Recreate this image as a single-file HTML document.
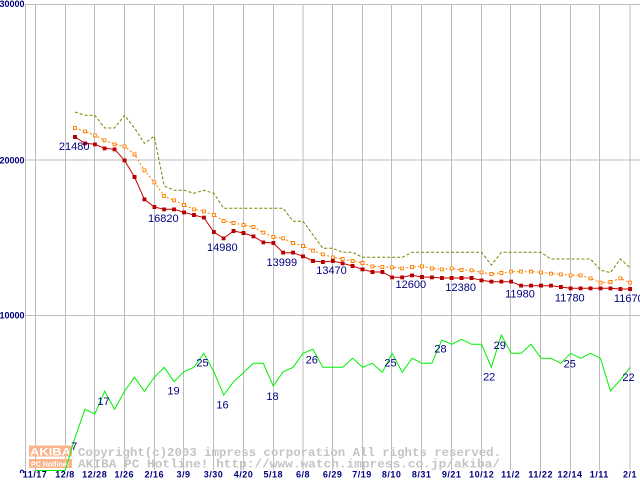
<!DOCTYPE html>
<html><head><meta charset="utf-8"><style>
html,body{margin:0;padding:0;background:#fff;}
svg{display:block;}
.xl{font-family:"Liberation Sans",sans-serif;font-size:9px;font-weight:bold;fill:#000080;letter-spacing:0.5px;text-anchor:middle;}
.yl{font-family:"Liberation Sans",sans-serif;font-size:9px;font-weight:bold;fill:#000080;text-anchor:end;}
.dl{font-family:"Liberation Sans",sans-serif;font-size:11px;fill:#000080;text-anchor:middle;}
.wm{font-family:"Liberation Mono",monospace;font-size:12px;font-weight:bold;fill:#c4c4c4;}
</style></head><body>
<svg width="640" height="480" viewBox="0 0 640 480" xmlns="http://www.w3.org/2000/svg">
<defs>
<marker id="mr" viewBox="0 0 4 4" refX="2" refY="2" markerWidth="4" markerHeight="4" markerUnits="userSpaceOnUse"><rect width="4" height="4" fill="#b80000"/></marker>
<marker id="mo" viewBox="0 0 4 4" refX="2" refY="2" markerWidth="4" markerHeight="4" markerUnits="userSpaceOnUse"><rect x="0.5" y="0.5" width="3" height="3" fill="#fff" stroke="#ff8000" stroke-width="1"/></marker>
<clipPath id="c0"><rect x="0" y="0" width="640" height="473"/></clipPath>
</defs>
<rect width="640" height="480" fill="#fff"/>
<!-- grid -->
<g stroke="#bcbcbc" stroke-width="1" fill="none">
<path d="M25,4.5H640M25,160H640M25,315.5H640"/>
<path d="M25.5,4V470M35.5,4V470M65.5,4V470M94.5,4V470M124.5,4V470M154.5,4V470M183.5,4V470M213.5,4V470M243.5,4V470M273.5,4V470M303,4V470M332.5,4V470M362.5,4V470M391.5,4V470M421.5,4V470M451.5,4V470M481.5,4V470M510.5,4V470M540.5,4V470M570.5,4V470M599.5,4V470M630,4V470"/>
</g>
<!-- y labels -->
<text class="yl" x="24.5" y="7">30000</text>
<text class="yl" x="24.5" y="163.3">20000</text>
<text class="yl" x="24.5" y="318.7">10000</text>
<text class="yl" x="24.5" y="476" clip-path="url(#c0)">0</text>
<!-- x labels -->
<g class="xl">
<text x="35" y="477.5">11/17</text>
<text x="65" y="477.5">12/8</text>
<text x="94.7" y="477.5">12/28</text>
<text x="124.3" y="477.5">1/26</text>
<text x="154.3" y="477.5">2/16</text>
<text x="183.5" y="477.5">3/9</text>
<text x="213.5" y="477.5">3/30</text>
<text x="243.5" y="477.5">4/20</text>
<text x="273.3" y="477.5">5/18</text>
<text x="303" y="477.5">6/8</text>
<text x="332.7" y="477.5">6/29</text>
<text x="362" y="477.5">7/19</text>
<text x="391.7" y="477.5">8/10</text>
<text x="421.7" y="477.5">8/31</text>
<text x="451.7" y="477.5">9/21</text>
<text x="481.7" y="477.5">10/12</text>
<text x="510.7" y="477.5">11/2</text>
<text x="540.7" y="477.5">11/22</text>
<text x="570" y="477.5">12/14</text>
<text x="599.3" y="477.5">1/11</text>
<text x="630" y="477.5">2/1</text>
</g>
<!-- watermark -->
<rect x="29" y="445.5" width="43" height="11" fill="#f9b48c"/>
<rect x="29" y="459" width="43" height="9" fill="#f9b48c"/>
<text x="30" y="455.5" font-family="Liberation Sans,sans-serif" font-size="11" font-weight="bold" fill="#ffffff" textLength="41" lengthAdjust="spacingAndGlyphs">AKIBA</text>
<text x="31" y="466.5" font-family="Liberation Sans,sans-serif" font-size="7.5" font-weight="bold" fill="#ffffff" textLength="38" lengthAdjust="spacingAndGlyphs">PC Hotline!</text>
<text class="wm" x="78" y="456" textLength="423" lengthAdjust="spacingAndGlyphs">Copyright(c)2003 impress corporation All rights reserved.</text>
<text class="wm" x="78" y="467.3" textLength="422" lengthAdjust="spacingAndGlyphs">AKIBA PC Hotline!  http://www.watch.impress.co.jp/akiba/</text>
<!-- olive -->
<polyline fill="none" stroke="#808000" stroke-width="1" stroke-dasharray="3 2" points="75.0,112 84.9,115.3 94.8,115.3 104.7,128 114.6,128 124.5,115.3 134.5,128 144.4,143.3 154.3,136.3 164.2,186 174.1,190.3 184.0,190.3 193.9,193.3 203.9,190.3 213.8,193.3 223.7,208.3 233.6,208.3 243.5,208.3 253.4,208.3 263.3,208.3 273.3,208.3 283.2,208.3 293.1,221.3 303.0,221.3 312.9,234.8 322.8,248.3 332.8,248.3 342.7,252.3 352.6,252.3 362.5,257.3 372.4,257.3 382.3,257.3 392.2,257.3 402.2,257.3 412.1,252.3 422.0,252.3 431.9,252.3 441.8,252.3 451.7,252.3 461.6,252.3 471.6,252.3 481.5,252.3 491.4,265 501.3,252.3 511.2,252.3 521.1,252.3 531.1,252.3 541.0,252.3 550.9,259 560.8,259 570.7,259 580.6,259 590.5,259 600.5,270 610.4,272.7 620.3,259 630.2,267.7"/>
<!-- orange -->
<polyline fill="none" stroke="#ff8000" stroke-width="1" stroke-dasharray="2 2" marker-start="url(#mo)" marker-mid="url(#mo)" marker-end="url(#mo)" points="75.0,128 84.9,131.3 94.8,135.3 104.7,140.3 114.6,144.3 124.5,146.3 134.5,154.3 144.4,170.3 154.3,182.3 164.2,196 174.1,200.3 184.0,205 193.9,209.3 203.9,211.3 213.8,215 223.7,221 233.6,223 243.5,225 253.4,227 263.3,232.7 273.3,237 283.2,238.3 293.1,243 303.0,246 312.9,250.7 322.8,254.3 332.8,257.3 342.7,259 352.6,261 362.5,263 372.4,266.3 382.3,267 392.2,267.3 402.2,268.3 412.1,267 422.0,266.3 431.9,268.3 441.8,269.3 451.7,268.3 461.6,270 471.6,270.3 481.5,272.3 491.4,274 501.3,273 511.2,271.7 521.1,271.7 531.1,271.7 541.0,272.3 550.9,273.7 560.8,274.3 570.7,275.3 580.6,275.3 590.5,278.3 600.5,282.7 610.4,282 620.3,278.3 630.2,282.7"/>
<!-- red -->
<polyline fill="none" stroke="#c80000" stroke-width="1" marker-start="url(#mr)" marker-mid="url(#mr)" marker-end="url(#mr)" points="75.0,137 84.9,143.3 94.8,144.3 104.7,148.3 114.6,149.3 124.5,160.3 134.5,177 144.4,199.3 154.3,207 164.2,209.3 174.1,209.3 184.0,212.3 193.9,215 203.9,217.7 213.8,232 223.7,238.3 233.6,231 243.5,233 253.4,236.3 263.3,242.3 273.3,243 283.2,252.7 293.1,252.7 303.0,256.3 312.9,261 322.8,262 332.8,261 342.7,263.3 352.6,266 362.5,269.3 372.4,272 382.3,272 392.2,277.3 402.2,277.3 412.1,275.3 422.0,277 431.9,277.3 441.8,278 451.7,278 461.6,278 471.6,278 481.5,280.3 491.4,281.7 501.3,281.7 511.2,281.7 521.1,285.7 531.1,285.7 541.0,285.7 550.9,285.7 560.8,287 570.7,288.3 580.6,288.3 590.5,288.3 600.5,288.3 610.4,288.3 620.3,289 630.2,289"/>
<!-- green -->
<polyline fill="none" stroke="#00f000" stroke-width="1" points="35.3,470.5 45.2,470.5 55.1,470.5 65.1,470.5 75.0,437.7 84.9,409.3 94.8,414 104.7,391.3 114.6,409.3 124.5,391.3 134.5,377.3 144.4,391.3 154.3,377.3 164.2,367.3 174.1,381.7 184.0,371.7 193.9,367.3 203.9,353.3 213.8,371.7 223.7,395 233.6,381.7 243.5,372.7 253.4,363.3 263.3,363.3 273.3,386 283.2,371.7 293.1,367.3 303.0,353.3 312.9,349.3 322.8,367.3 332.8,367.3 342.7,367.3 352.6,358.3 362.5,367.3 372.4,363.3 382.3,372.3 392.2,353.3 402.2,372.3 412.1,358.3 422.0,363.3 431.9,363.3 441.8,340 451.7,344.3 461.6,339.3 471.6,344.3 481.5,344.3 491.4,367.3 501.3,335 511.2,353.3 521.1,353.3 531.1,344.3 541.0,358.3 550.9,358.3 560.8,363.3 570.7,353.3 580.6,358.3 590.5,353.3 600.5,358.3 610.4,391 620.3,380 630.2,367.3"/>
<!-- data labels -->
<g class="dl">
<text x="74.2" y="150">21480</text>
<text x="163.3" y="222">16820</text>
<text x="222.3" y="251">14980</text>
<text x="281.8" y="266">13999</text>
<text x="331.5" y="274">13470</text>
<text x="410.8" y="288">12600</text>
<text x="460.7" y="291">12380</text>
<text x="520" y="297.3">11980</text>
<text x="569.8" y="301.3">11780</text>
<text x="628.8" y="302">11670</text>
<text x="74.2" y="450">7</text>
<text x="103.5" y="405">17</text>
<text x="173.5" y="394.7">19</text>
<text x="202.5" y="366.7">25</text>
<text x="222.5" y="408.7">16</text>
<text x="272.5" y="400">18</text>
<text x="311.8" y="363.3">26</text>
<text x="390.5" y="366.7">25</text>
<text x="440.5" y="352.7">28</text>
<text x="489.2" y="380.7">22</text>
<text x="499.8" y="349">29</text>
<text x="569.8" y="367.3">25</text>
<text x="628.5" y="381">22</text>
</g>
</svg>
</body></html>
